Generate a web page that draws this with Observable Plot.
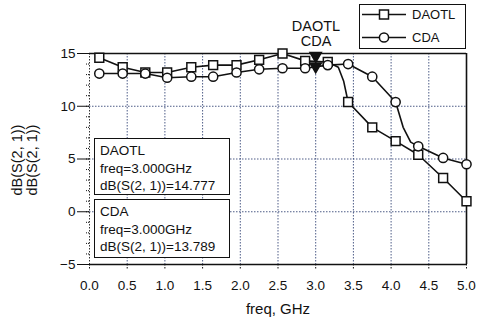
<!DOCTYPE html>
<html>
<head>
<meta charset="utf-8">
<script src="https://cdn.jsdelivr.net/npm/d3@7"></script>
<script src="https://cdn.jsdelivr.net/npm/@observablehq/plot@0.6"></script>
<style>
  html, body { margin: 0; padding: 0; background: #fff; }
  body { font-family: "Liberation Sans", Arial, sans-serif; color: #111; }
  #wrap { position: relative; width: 478px; height: 320px; overflow: hidden; }
  .box { position: absolute; border: 1.5px solid #111; background: #fff; box-sizing: border-box; font-size: 13.5px; line-height: 17.5px; padding: 3px 0 0 5px; white-space: nowrap; }
  .ylab { position: absolute; left: 25px; top: 160px; transform: translate(-50%, -50%) rotate(-90deg); font-size: 14.5px; line-height: 15px; text-align: center; white-space: nowrap; }
  .xlab { position: absolute; left: 278px; top: 300px; transform: translateX(-50%); font-size: 15px; white-space: nowrap; }
  .mlab { position: absolute; left: 316px; top: 19px; transform: translateX(-50%); font-size: 14.5px; line-height: 15px; text-align: center; }
  .legend { position: absolute; left: 359px; top: 4px; width: 107px; height: 45px; border: 1.5px solid #111; box-sizing: border-box; background: #fff; }
</style>
</head>
<body>
<div id="wrap"></div>
<script>
// ---- data ----
const freq = [0.13, 0.44, 0.74, 1.03, 1.35, 1.64, 1.95, 2.25, 2.56, 2.86, 3.16, 3.43, 3.75, 4.06, 4.36, 4.69, 5.0];
const daotl = [14.6, 13.7, 13.2, 13.2, 13.7, 13.9, 13.9, 14.4, 15.0, 14.3, 14.2, 10.4, 8.0, 6.7, 5.4, 3.2, 1.0];
const cda   = [13.1, 13.1, 13.1, 12.7, 12.8, 12.8, 13.2, 13.5, 13.6, 13.6, 13.9, 14.0, 12.8, 10.4, 6.2, 5.1, 4.5];
// extra trace samples (unmarked) on the simulated curves
const daotlKneeF = [3.30, 3.37];
const daotlKnee  = [13.7, 12.4];
const cdaKneeF   = [4.16, 4.26];
const cdaKnee    = [8.0, 6.6];
// marker readout at 3.0 GHz
const markerFreq = 3.0;
const markerNames = ["DAOTL", "CDA"];
const markerVals = [14.777, 13.789];
// axes
const xTicks = [0, 0.5, 1, 1.5, 2, 2.5, 3, 3.5, 4, 4.5, 5];
const yTicks = [-5, 0, 5, 10, 15];
const yMinor = d3.range(-5, 16, 1);

const pts = (fs, vs, name) => fs.map((f, i) => ({f, v: vs[i], name}));
const daotlPts = pts(freq, daotl, "DAOTL");
const cdaPts = pts(freq, cda, "CDA");
const byF = (a, b) => a.f - b.f;
const daotlTrace = daotlPts.concat(pts(daotlKneeF, daotlKnee)).sort(byF);
const cdaTrace = cdaPts.concat(pts(cdaKneeF, cdaKnee)).sort(byF);
const markers = markerVals.map((v, i) => ({f: markerFreq, v, name: markerNames[i]}));

const gridStyle = {stroke: "#3a4a7a", strokeOpacity: 0.9, strokeDasharray: "1.5,1.5", strokeWidth: 1};

const chart = Plot.plot({
  width: 478,
  height: 320,
  marginLeft: 89,
  marginRight: 12,
  marginTop: 53,
  marginBottom: 56,
  style: {fontFamily: "Liberation Sans, Arial, sans-serif", fontSize: "13px", color: "#111", background: "white"},
  x: {domain: [0, 5]},
  y: {domain: [-5, 15]},
  marks: [
    Plot.gridX(xTicks.slice(1, -1), gridStyle),
    Plot.gridY(yTicks.slice(1, -1), gridStyle),
    Plot.ruleX([0], {stroke: "#333", strokeDasharray: "1.5,1.5"}),
    Plot.axisY(yMinor, {tickSize: 4, tickFormat: () => "", strokeDasharray: "1,1", label: null}),
    Plot.axisY(yTicks, {tickSize: 12, tickPadding: 2, tickFormat: d3.format("d"), fontSize: 13.5, label: null}),
    Plot.axisX(xTicks, {tickSize: 6, tickPadding: 10, tickFormat: d3.format(".1f"), strokeDasharray: "1.5,1.5", fontSize: 13.5, label: null}),
    Plot.ruleY([-5, 15], {stroke: "#111", strokeWidth: 1.6}),
    Plot.ruleX([5], {stroke: "#111", strokeWidth: 1.6}),
    Plot.line(daotlTrace, {x: "f", y: "v", stroke: "#111", strokeWidth: 1.6}),
    Plot.line(cdaTrace, {x: "f", y: "v", stroke: "#111", strokeWidth: 1.6}),
    Plot.dot(daotlPts, {x: "f", y: "v", symbol: "square", r: 5, fill: "white", stroke: "#111", strokeWidth: 1.5}),
    Plot.dot(cdaPts, {x: "f", y: "v", symbol: "circle", r: 4.6, fill: "white", stroke: "#111", strokeWidth: 1.5}),
    Plot.dot(markers, {x: "f", y: "v", symbol: "triangle", r: 4.2, fill: "#111", stroke: "#111", rotate: 180})
  ]
});

const wrap = document.getElementById("wrap");
wrap.appendChild(chart);

function add(html, cls, style) {
  const d = document.createElement("div");
  d.className = cls;
  if (style) Object.assign(d.style, style);
  d.innerHTML = html;
  wrap.appendChild(d);
  return d;
}

add("dB(S(2, 1))<br>dB(S(2, 1))", "ylab");
add("freq, GHz", "xlab");
add(markerNames.join("<br>"), "mlab");

markers.forEach((m, i) => {
  add(`${m.name}<br>freq=${m.f.toFixed(3)}GHz<br>dB(S(2, 1))=${m.v.toFixed(3)}`, "box",
      {left: "94px", top: (i === 0 ? 138 : 199) + "px", width: "136px", height: (i === 0 ? 57 : 59) + "px"});
});

// legend
const legendItems = [{name: "DAOTL", sym: "square"}, {name: "CDA", sym: "circle"}];
const lg = add("", "legend");
legendItems.forEach((it, i) => {
  const y = i === 0 ? 10 : 33;
  const glyph = it.sym === "square"
    ? `<rect x="17.5" y="4" width="9" height="9" fill="white" stroke="#111" stroke-width="1.5"/>`
    : `<circle cx="22" cy="8.5" r="4.6" fill="white" stroke="#111" stroke-width="1.5"/>`;
  const row = document.createElement("div");
  Object.assign(row.style, {position: "absolute", left: "2px", top: (y - 9) + "px", height: "17px", display: "flex", alignItems: "center", fontSize: "13px"});
  row.innerHTML = `<svg width="46" height="17" style="display:block"><line x1="0" x2="44" y1="8.5" y2="8.5" stroke="#111" stroke-width="1.6"/>${glyph}</svg><span style="margin-left:4px">${it.name}</span>`;
  lg.appendChild(row);
});
</script>
</body>
</html>
